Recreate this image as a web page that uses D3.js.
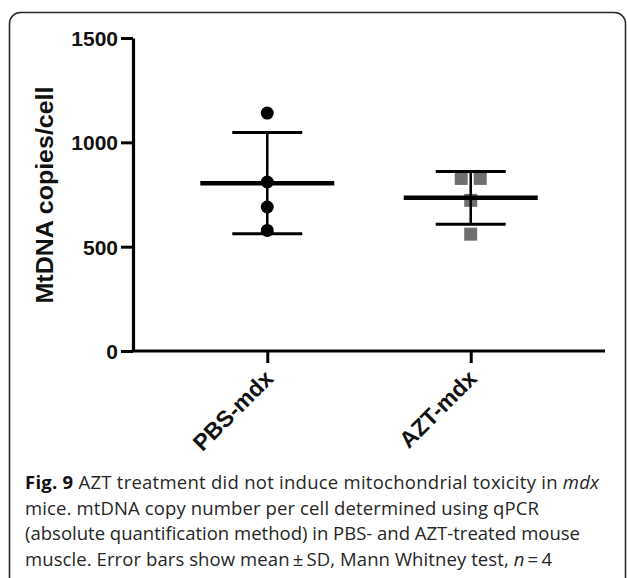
<!DOCTYPE html>
<html>
<head>
<meta charset="utf-8">
<script src="https://cdn.jsdelivr.net/npm/d3@7"></script>
<style>
  body { margin: 0; background: #fff; }
  .caption { font-family: "Open Sans", sans-serif; font-size: 18.5px; fill: #262626; }
</style>
</head>
<body>
<div id="chart"></div>
<script>
// groups and the individual mice values (MtDNA copies/cell)
const categories = ["PBS-mdx", "AZT-mdx"];
const pbsValues = [1140, 810, 690, 578];
const aztValues = [827, 827, 722, 560];
const yTicks = [0, 500, 1000, 1500];
const captionLines = [
    [["Fig. 9", "bold"], [" AZT treatment did not induce mitochondrial toxicity in ", ""], ["mdx", "italic"]],
    [["mice. mtDNA copy number per cell determined using qPCR", ""]],
    [["(absolute quantification method) in PBS- and AZT-treated mouse", ""]],
    [["muscle. Error bars show mean\u2009\u00b1\u2009SD, Mann Whitney test, ", ""], ["n", "italic"], ["\u2009=\u20094", ""]]
];
// measured widths of the caption lines in the original
const captionWidths = [574, 514, 555, 527];

const width = 627, height = 578;
const svg = d3.select("#chart").append("svg")
    .attr("width", width)
    .attr("height", height);

// frame around figure (only top/left visible)
svg.append("rect")
    .attr("x", 9.5).attr("y", 12.5)
    .attr("width", 616).attr("height", 620)
    .attr("rx", 11)
    .attr("fill", "none")
    .attr("stroke", "#2a2a2a")
    .attr("stroke-width", 1.6);

const x = d3.scalePoint().domain(categories).range([133, 605]).padding(0.66);
const y = d3.scaleLinear().domain([0, 1500]).range([351, 38]);

const boldFont = "'Liberation Sans', Arial, sans-serif";

// y axis
const yAxis = svg.append("g")
    .attr("transform", "translate(133,0)")
    .call(d3.axisLeft(y).tickValues(yTicks).tickFormat(d3.format("d"))
        .tickSize(12).tickSizeOuter(0).tickPadding(3));
yAxis.select(".domain").attr("stroke", "#000").attr("stroke-width", 3.2);
yAxis.selectAll(".tick line").attr("stroke", "#000").attr("stroke-width", 3);
yAxis.selectAll(".tick text")
    .attr("font-family", boldFont)
    .attr("font-weight", "bold")
    .attr("font-size", 21)
    .attr("fill", "#111")
    .attr("dy", "0.36em");

// x axis
const xAxis = svg.append("g")
    .attr("transform", "translate(0,351)")
    .call(d3.axisBottom(x).tickSize(12).tickSizeOuter(0));
xAxis.select(".domain").attr("stroke", "#000").attr("stroke-width", 3.2)
    .attr("d", "M131.5,0H605");
xAxis.selectAll(".tick line").attr("stroke", "#000").attr("stroke-width", 3);
xAxis.selectAll(".tick text")
    .attr("font-family", boldFont)
    .attr("font-weight", "bold")
    .attr("font-size", 23)
    .attr("fill", "#111")
    .attr("text-anchor", "end")
    .attr("y", 0)
    .attr("dy", 0)
    .attr("transform", "translate(7,29) rotate(-45)");

// y axis title
svg.append("text")
    .attr("transform", "translate(53,195) rotate(-90)")
    .attr("text-anchor", "middle")
    .attr("font-family", boldFont)
    .attr("font-weight", "bold")
    .attr("font-size", 24)
    .attr("fill", "#111")
    .attr("textLength", 217)
    .attr("lengthAdjust", "spacingAndGlyphs")
    .text("MtDNA copies/cell");

const groups = [
    { name: categories[0], values: pbsValues, shape: "circle", color: "#000" },
    { name: categories[1], values: aztValues, shape: "square", color: "#6f6f6f" }
];

groups.forEach(g => {
    const cx = x(g.name);
    const mean = d3.mean(g.values);
    const sd = d3.deviation(g.values);

    // spread out tied values side by side
    const counts = d3.rollup(g.values, v => v.length, v => v);
    const seen = new Map();
    const pts = g.values.map(v => {
        const n = counts.get(v);
        const i = seen.get(v) || 0;
        seen.set(v, i + 1);
        return { v: v, dx: (i - (n - 1) / 2) * 19 };
    });

    const layer = svg.append("g");
    if (g.shape === "circle") {
        layer.selectAll("circle").data(pts).enter().append("circle")
            .attr("cx", d => cx + d.dx)
            .attr("cy", d => y(d.v))
            .attr("r", 6.5)
            .attr("fill", g.color);
    } else {
        layer.selectAll("rect").data(pts).enter().append("rect")
            .attr("x", d => cx + d.dx - 6.5)
            .attr("y", d => y(d.v) - 6.5)
            .attr("width", 13).attr("height", 13)
            .attr("fill", g.color);
    }

    const bars = svg.append("g").attr("stroke", "#000");
    bars.append("line")
        .attr("x1", cx).attr("x2", cx)
        .attr("y1", y(mean + sd)).attr("y2", y(mean - sd))
        .attr("stroke-width", 2.5);
    [mean + sd, mean - sd].forEach(v => {
        bars.append("line")
            .attr("x1", cx - 35).attr("x2", cx + 35)
            .attr("y1", y(v)).attr("y2", y(v))
            .attr("stroke-width", 3);
    });
    bars.append("line")
        .attr("x1", cx - 67).attr("x2", cx + 67)
        .attr("y1", y(mean)).attr("y2", y(mean))
        .attr("stroke-width", 4.5);
});

// caption
const cap = svg.append("g");
captionLines.forEach((line, i) => {
    const t = cap.append("text")
        .attr("class", "caption")
        .attr("x", 25)
        .attr("y", 489 + i * 25.6)
        .attr("textLength", captionWidths[i])
        .attr("lengthAdjust", "spacing");
    line.forEach(([txt, style]) => {
        const span = t.append("tspan").text(txt);
        if (style === "bold") span.attr("font-weight", "bold").attr("fill", "#111");
        if (style === "italic") span.attr("font-style", "italic");
    });
});
</script>
</body>
</html>
